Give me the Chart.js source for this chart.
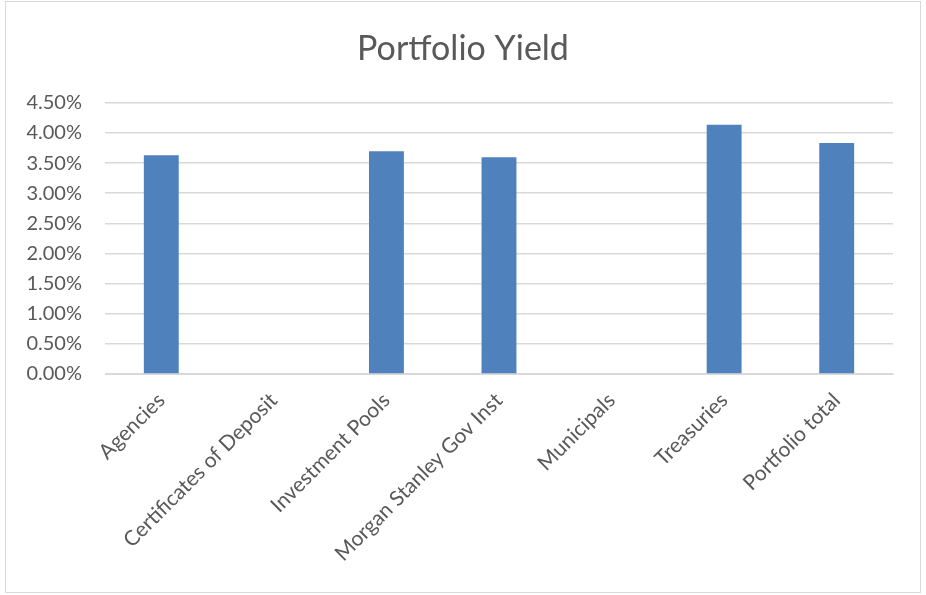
<!DOCTYPE html>
<html>
<head>
<meta charset="utf-8">
<script src="https://cdn.jsdelivr.net/npm/chart.js@4/dist/chart.umd.min.js"></script>
<style>
  html, body { margin: 0; padding: 0; background: #fff; }
  #wrap {
    position: absolute; left: 5px; top: 1px; width: 916px; height: 592px;
    border: 1px solid #d9d9d9; box-sizing: border-box;
  }
  #yieldChart { display: block; }
</style>
</head>
<body>
<div id="wrap"><canvas id="yieldChart" width="914" height="590"></canvas></div>
<script>
// Portfolio yield by investment type (percent)
const categories = [
  'Agencies',
  'Certificates of Deposit',
  'Investment Pools',
  'Morgan Stanley Gov Inst',
  'Municipals',
  'Treasuries',
  'Portfolio total'
];
const yieldValues = [3.63, null, 3.695, 3.595, null, 4.135, 3.835];
const yTicks = [0, 0.5, 1, 1.5, 2, 2.5, 3, 3.5, 4, 4.5];

const textColor = '#595959';
const fontFamily = 'Lato, "Open Sans", sans-serif';

const ctx = document.getElementById('yieldChart').getContext('2d');
const yieldChart = new Chart(ctx, {
  type: 'bar',
  data: {
    labels: categories,
    datasets: [{
      label: 'Yield',
      data: yieldValues,
      backgroundColor: '#4f81bd',
      borderColor: '#4f81bd',
      borderWidth: 0,
      categoryPercentage: 1.0,
      barPercentage: 0.31
    }]
  },
  options: {
    responsive: false,
    animation: false,
    layout: {
      padding: 0
    },
    plugins: {
      legend: { display: false },
      tooltip: { enabled: false },
      title: {
        display: true,
        text: 'Portfolio Yield',
        color: textColor,
        font: { family: fontFamily, size: 34, weight: 'normal' },
        padding: { top: 27, bottom: 33 }
      }
    },
    scales: {
      x: {
        grid: { display: false },
        border: { display: true, color: '#d9d9d9', width: 1 },
        afterFit: axis => { axis.height = 218; },
        ticks: {
          color: textColor,
          font: { family: fontFamily, size: 21 },
          minRotation: 45,
          maxRotation: 45,
          labelOffset: 0,
          padding: 6
        }
      },
      y: {
        min: 0,
        max: 4.5,
        afterBuildTicks: axis => {
          axis.ticks = yTicks.map(v => ({ value: v }));
        },
        afterFit: axis => { axis.width = 99; },
        grid: { color: '#d9d9d9', lineWidth: 1.5, drawTicks: false },
        border: { display: false },
        ticks: {
          color: textColor,
          font: { family: fontFamily, size: 20 },
          padding: 23,
          callback: value => value.toFixed(2) + '%'
        }
      },
      // empty right-hand spacer so the plot ends where the original does
      spacer: {
        type: 'linear',
        position: 'right',
        display: true,
        grid: { display: false },
        border: { display: false },
        ticks: { display: false },
        afterFit: axis => { axis.width = 27; }
      }
    }
  }
});
</script>
</body>
</html>
